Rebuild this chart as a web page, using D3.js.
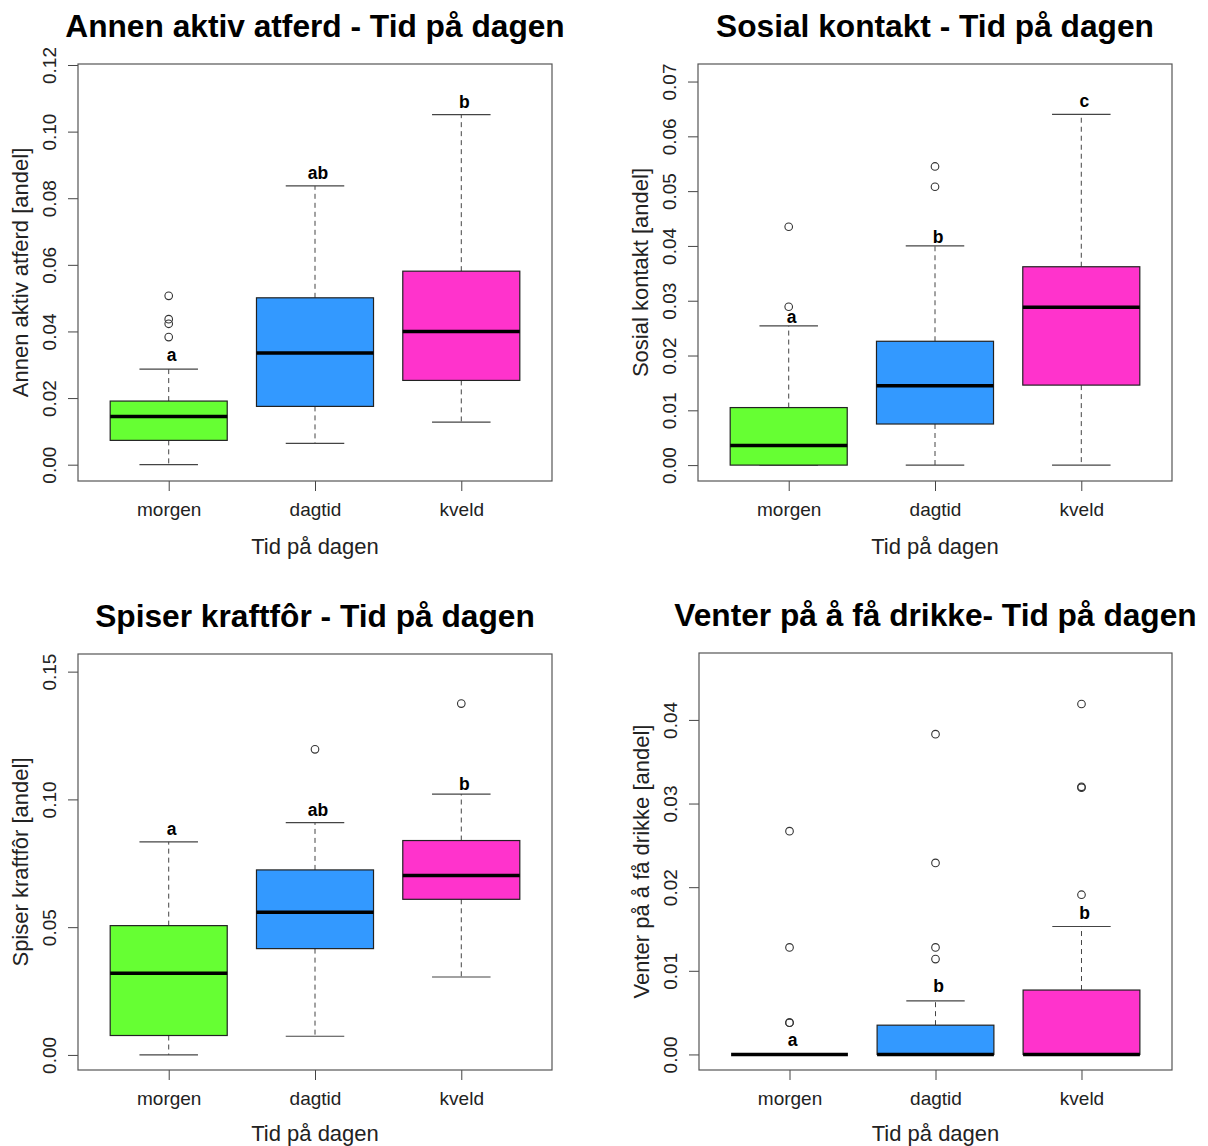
<!DOCTYPE html>
<html>
<head>
<meta charset="utf-8">
<script src="https://cdn.jsdelivr.net/npm/d3@7"></script>
<style>
  html, body { margin: 0; padding: 0; background: #fff; }
  svg { display: block; font-family: "Liberation Sans", Arial, Helvetica, sans-serif; }
</style>
</head>
<body>
<svg id="chart" width="1208" height="1146"></svg>
<script>
// ---------- DATA ----------
const categories = ["morgen", "dagtid", "kveld"];
const boxColors = ["#66FF33", "#3399FF", "#FF33CC"];
const xAxisTitle = "Tid på dagen";

// [lower whisker, Q1, median, Q3, upper whisker]
const annenStats = [
  [0.0000, 0.0073, 0.0145, 0.0191, 0.0287],
  [0.0064, 0.0175, 0.0335, 0.0501, 0.0837],
  [0.0128, 0.0253, 0.0400, 0.0581, 0.1051]
];
const annenOutliers = [[0.0507, 0.0437, 0.0423, 0.0383], [], []];
const annenLetters = ["a", "ab", "b"];
const annenLetterY = [0.0330, 0.0878, 0.1090];
const annenTicks = [0, 0.02, 0.04, 0.06, 0.08, 0.10, 0.12];

const sosialStats = [
  [0.0000, 0.0000, 0.0036, 0.0105, 0.0254],
  [0.0000, 0.0075, 0.0145, 0.0226, 0.0400],
  [0.0000, 0.0146, 0.0288, 0.0362, 0.0640]
];
const sosialOutliers = [[0.0289, 0.0435], [0.0508, 0.0545], []];
const sosialLetters = ["a", "b", "c"];
const sosialLetterY = [0.0271, 0.0417, 0.0665];
const sosialTicks = [0, 0.01, 0.02, 0.03, 0.04, 0.05, 0.06, 0.07];

const spiserStats = [
  [0.0000, 0.0076, 0.0320, 0.0506, 0.0834],
  [0.0073, 0.0416, 0.0558, 0.0724, 0.0909],
  [0.0305, 0.0609, 0.0702, 0.0839, 0.1021]
];
const spiserOutliers = [[], [0.1196], [0.1375]];
const spiserLetters = ["a", "ab", "b"];
const spiserLetterY = [0.0884, 0.0959, 0.1063];
const spiserTicks = [0, 0.05, 0.10, 0.15];

const venterStats = [
  [0.0000, 0.0000, 0.0000, 0.0000, 0.0000],
  [0.0000, 0.0000, 0.0000, 0.0035, 0.0064],
  [0.0000, 0.0000, 0.0000, 0.0077, 0.0153]
];
const venterOutliers = [
  [0.0038, 0.0038, 0.0128, 0.0267],
  [0.0114, 0.0128, 0.0229, 0.0383],
  [0.0191, 0.0319, 0.0320, 0.0419]
];
const venterLetters = ["a", "b", "b"];
const venterLetterY = [0.0018, 0.0082, 0.0170];
const venterTicks = [0, 0.01, 0.02, 0.03, 0.04];

// ---------- PANEL TABLE ----------
const panels = [
  { title: "Annen aktiv atferd - Tid på dagen", ylab: "Annen aktiv atferd [andel]",
    stats: annenStats, outliers: annenOutliers, letters: annenLetters, letterY: annenLetterY,
    ticks: annenTicks, domain: [-0.0049, 0.1203], box: { x: 78, y: 64, w: 474, h: 417 } },
  { title: "Sosial kontakt - Tid på dagen", ylab: "Sosial kontakt [andel]",
    stats: sosialStats, outliers: sosialOutliers, letters: sosialLetters, letterY: sosialLetterY,
    ticks: sosialTicks, domain: [-0.0029, 0.0732], box: { x: 698, y: 64, w: 474, h: 417 } },
  { title: "Spiser kraftfôr - Tid på dagen", ylab: "Spiser kraftfôr [andel]",
    stats: spiserStats, outliers: spiserOutliers, letters: spiserLetters, letterY: spiserLetterY,
    ticks: spiserTicks, domain: [-0.0059, 0.1569], box: { x: 78, y: 654, w: 474, h: 416 } },
  { title: "Venter på å få drikke- Tid på dagen", ylab: "Venter på å få drikke [andel]",
    stats: venterStats, outliers: venterOutliers, letters: venterLetters, letterY: venterLetterY,
    ticks: venterTicks, domain: [-0.00186, 0.0480], box: { x: 699, y: 653, w: 473, h: 417 } }
];

const svg = d3.select("#chart");
const ink = "#222";
const lineGray = "#444";

panels.forEach(p => {
  const b = p.box;
  const g = svg.append("g").attr("transform", `translate(${b.x},${b.y})`);
  const x = d3.scaleLinear().domain([0.38, 3.62]).range([0, b.w]);
  const y = d3.scaleLinear().domain(p.domain).range([b.h, 0]);
  const boxHalf = 0.4, stapleHalf = 0.2;

  // Title
  svg.append("text")
    .attr("x", b.x + b.w / 2).attr("y", b.y - 27)
    .attr("text-anchor", "middle")
    .attr("font-size", 31.7).attr("font-weight", "bold").attr("fill", "#000")
    .text(p.title);

  // Y axis
  const yAxis = d3.axisLeft(y).tickValues(p.ticks).tickFormat(d3.format(".2f"))
    .tickSize(10).tickSizeOuter(0);
  const ya = g.append("g").call(yAxis);
  ya.select(".domain").remove();
  ya.selectAll(".tick line").attr("stroke", lineGray);
  ya.selectAll(".tick text")
    .attr("x", null).attr("dy", null)
    .attr("transform", "translate(-29,0) rotate(-90)")
    .attr("text-anchor", "middle").attr("dominant-baseline", "central")
    .attr("font-size", 19).attr("font-family", "Liberation Sans, Arial, sans-serif")
    .attr("fill", ink);

  // X axis
  const xAxis = d3.axisBottom(x).tickValues([1, 2, 3]).tickFormat(d => categories[d - 1])
    .tickSize(10).tickSizeOuter(0);
  const xa = g.append("g").attr("transform", `translate(0,${b.h})`).call(xAxis);
  xa.select(".domain").remove();
  xa.selectAll(".tick line").attr("stroke", lineGray);
  xa.selectAll(".tick text")
    .attr("y", 35).attr("dy", null)
    .attr("font-size", 19).attr("font-family", "Liberation Sans, Arial, sans-serif")
    .attr("fill", ink);

  // Axis titles
  svg.append("text")
    .attr("x", b.x + b.w / 2).attr("y", Math.min(b.y + b.h + 73, 1141))
    .attr("text-anchor", "middle").attr("font-size", 22).attr("fill", ink)
    .text(xAxisTitle);
  svg.append("text")
    .attr("transform", `translate(${b.x - 50},${b.y + b.h / 2}) rotate(-90)`)
    .attr("text-anchor", "middle").attr("font-size", 22).attr("fill", ink)
    .text(p.ylab);

  // Boxes
  p.stats.forEach((s, i) => {
    const cx = i + 1;
    const [lo, q1, med, q3, hi] = s;
    const bg = g.append("g");
    // whiskers (dashed)
    bg.append("line").attr("x1", x(cx)).attr("x2", x(cx)).attr("y1", y(q3)).attr("y2", y(hi))
      .attr("stroke", lineGray).attr("stroke-dasharray", "5,4");
    bg.append("line").attr("x1", x(cx)).attr("x2", x(cx)).attr("y1", y(q1)).attr("y2", y(lo))
      .attr("stroke", lineGray).attr("stroke-dasharray", "5,4");
    // staples
    [lo, hi].forEach(v => {
      bg.append("line").attr("x1", x(cx - stapleHalf)).attr("x2", x(cx + stapleHalf))
        .attr("y1", y(v)).attr("y2", y(v)).attr("stroke", lineGray).attr("stroke-width", 1.2);
    });
    // box
    bg.append("rect")
      .attr("x", x(cx - boxHalf)).attr("width", x(cx + boxHalf) - x(cx - boxHalf))
      .attr("y", y(q3)).attr("height", y(q1) - y(q3))
      .attr("fill", boxColors[i]).attr("stroke", "#222").attr("stroke-width", 1.2);
    // median
    bg.append("line").attr("x1", x(cx - boxHalf)).attr("x2", x(cx + boxHalf))
      .attr("y1", y(med)).attr("y2", y(med)).attr("stroke", "#000").attr("stroke-width", 3.5);
    // outliers
    p.outliers[i].forEach(v => {
      bg.append("circle").attr("cx", x(cx)).attr("cy", y(v)).attr("r", 3.8)
        .attr("fill", "none").attr("stroke", "#333").attr("stroke-width", 1.1);
    });
    // letters
    bg.append("text").attr("x", x(cx) + 3).attr("y", y(p.letterY[i]))
      .attr("dy", "0.36em").attr("text-anchor", "middle")
      .attr("font-size", 17.5).attr("font-weight", "bold").attr("fill", "#000")
      .text(p.letters[i]);
  });

  // frame
  g.append("rect").attr("x", 0).attr("y", 0).attr("width", b.w).attr("height", b.h)
    .attr("fill", "none").attr("stroke", "#555").attr("stroke-width", 1.2);
});
</script>
</body>
</html>
